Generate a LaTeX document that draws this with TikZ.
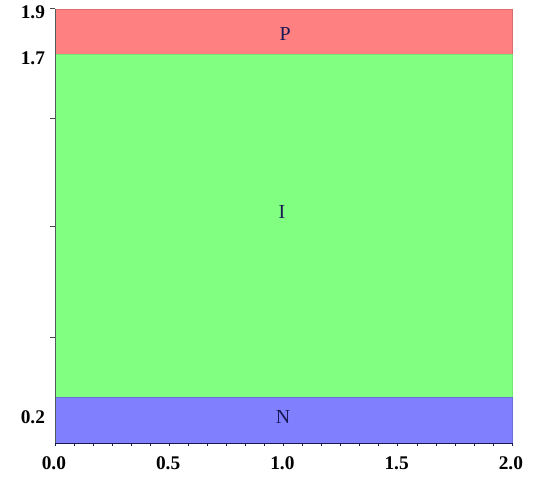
\documentclass[tikz,border=0pt]{standalone}
\usepackage{fontspec}
\setmainfont{Liberation Serif}
\usetikzlibrary{positioning}
\definecolor{regionp}{RGB}{255,128,128}
\definecolor{regioni}{RGB}{128,255,128}
\definecolor{regionn}{RGB}{128,128,255}
\definecolor{axisblue}{RGB}{25,25,85}
\definecolor{axisgray}{RGB}{80,95,85}
\tikzset{
    % bands of the device
    regionbox/.style={
        line width=0.5pt
    },
    ticklabel/.style={
        inner sep=0pt,
        black,
        font=\bfseries\fontsize{16.5}{16.5}\selectfont
    },
    regionlabel/.style={
        inner sep=0pt,
        text=axisblue,
        font=\fontsize{17}{17}\selectfont
    }
}

\begin{document}
\begin{tikzpicture}[x=6.855cm,y=6.855cm]
    \useasboundingbox (-0.2407,-0.1707) rectangle (2.2013,1.9387);

    \draw[regionbox, draw=regionp!85!black, fill=regionp] (0,1.7) rectangle (2,1.9);
    \draw[regionbox, draw=regioni!90!black, fill=regioni] (0,0.2) rectangle (2,1.7);
    \draw[regionbox, draw=regionn!85!black, fill=regionn] (0,0) rectangle (2,0.2);

    \draw[line width=0.8pt, axisgray] (0,0) -- (0,1.9);
    \draw[line width=0.8pt, axisblue] (0,0) -- (2,0);

    \foreach \k in {0,...,24}
        \draw[line width=0.5pt, axisblue] (\k/12,0) -- ++(0,-0.013);
    \foreach \yv in {1.9,1.422,0.95,0.464}
        \draw[line width=0.6pt, axisgray!80!black] (0,\yv) -- ++(-0.022,0);

    \node[ticklabel, anchor=east] (ylab1) at (-0.043,1.886) {1.9};
    \node[ticklabel, anchor=east] (ylab2) at (-0.043,1.685) {1.7};
    \node[ticklabel, anchor=east] (ylab3) at (-0.043,0.114) {0.2};

    \foreach \xv [count=\i] in {0.0,0.5,1.0,1.5,2.0}
        \node[ticklabel] (xlab\i) at (\xv-0.005,-0.0875) {\xv};

    \node[regionlabel] (labp) at (1.007,1.79) {P};
    \node[regionlabel] (labi) at (0.993,1.011) {I};
    \node[regionlabel] (labn) at (0.998,0.114) {N};
\end{tikzpicture}
\end{document}
